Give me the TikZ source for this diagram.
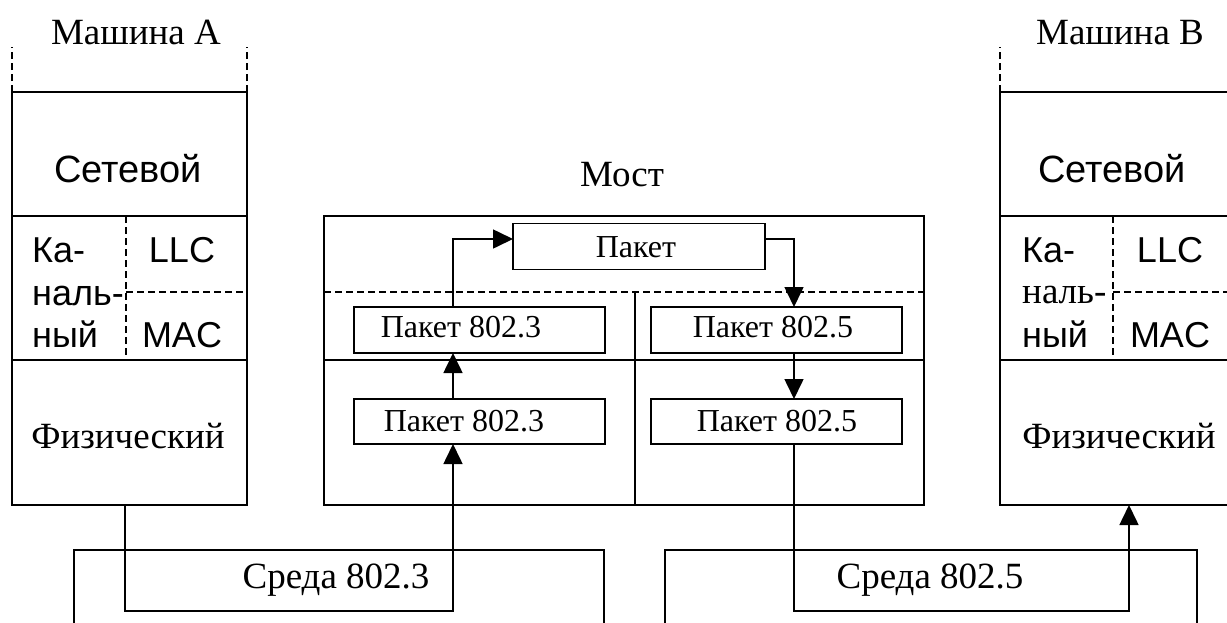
\documentclass[tikz,border=0pt]{standalone}
\usepackage{fontspec}
\setmainfont{Liberation Serif}
\newfontfamily\arialf{Liberation Sans}
\usetikzlibrary{arrows.meta}

\tikzset{
  box/.style={draw, line width=1.9pt, inner sep=0pt, outer sep=0pt},
  dashline/.style={line width=1.6pt, dash pattern=on 7pt off 4pt},
  solidline/.style={line width=1.9pt},
  conn/.style={line width=1.6pt},
  arr/.style={conn, -{Triangle[length=20pt,width=19pt]}},
  serif/.style={inner sep=0pt, font=\fontsize{37}{40}\selectfont},
  sans/.style={inner sep=0pt, font=\arialf\fontsize{36}{40}\selectfont},
  bigsans/.style={inner sep=0pt, font=\arialf\fontsize{38}{40}\selectfont},
  pk/.style={inner sep=0pt, font=\fontsize{32}{34}\selectfont},
}

\begin{document}
\begin{tikzpicture}[x=1pt, y=-1pt]
\useasboundingbox (0,0) rectangle (1227,622);
\clip (0,0) rectangle (1227,622);

% ---------- Machine A ----------
\node[serif, anchor=base] (labA) at (136,44) {Машина А};
\node[box, minimum width=235pt, minimum height=124pt] (netA) at (129.5,154) {};
\node[box, minimum width=235pt, minimum height=144pt] (linkA) at (129.5,288) {};
\node[box, minimum width=235pt, minimum height=145pt] (phyA) at (129.5,432.5) {};
\draw[dashline] (netA.north west) -- ++(0,-45);
\draw[dashline] (netA.north east) -- ++(0,-45);
\draw[dashline] (126,216) -- (126,360);
\draw[dashline] (126,292) -- (247,292);
\node[bigsans, anchor=base] (netAt) at (128,182) {Сетевой};
\node[sans, anchor=base west] (kaA) at (32,262) {Ка-};
\node[sans, anchor=base west] (nalA) at (32,305) {наль-};
\node[sans, anchor=base west] (nyA) at (32,347) {ный};
\node[sans, anchor=base] (llcA) at (182,262) {LLC};
\node[sans, anchor=base] (macA) at (182,347) {MAC};
\node[serif, anchor=base] (phyAt) at (128,448) {Физический};

% ---------- Machine B ----------
\node[serif, anchor=base] (labB) at (1120,44) {Машина В};
\node[box, minimum width=235pt, minimum height=124pt] (netB) at (1117.5,154) {};
\node[box, minimum width=235pt, minimum height=144pt] (linkB) at (1117.5,288) {};
\node[box, minimum width=235pt, minimum height=145pt] (phyB) at (1117.5,432.5) {};
\draw[dashline] (netB.north west) -- ++(0,-45);
\draw[dashline] (1113,216) -- (1113,360);
\draw[dashline] (1113,292) -- (1235,292);
\node[bigsans, anchor=base] (netBt) at (1112,182) {Сетевой};
\node[sans, anchor=base west] (kaB) at (1022,262) {Ка-};
\node[serif, anchor=base west] (nalB) at (1022,303) {наль-};
\node[sans, anchor=base west] (nyB) at (1022,347) {ный};
\node[sans, anchor=base] (llcB) at (1170,262) {LLC};
\node[sans, anchor=base] (macB) at (1170,347) {MAC};
\node[serif, anchor=base] (phyBt) at (1119,448) {Физический};

% ---------- Bridge ----------
\node[serif, anchor=base] (mostt) at (622,186) {Мост};
\node[box, minimum width=600pt, minimum height=289pt] (bridge) at (624,360.5) {};
\draw[dashline] (324,292) -- (924,292);
\draw[solidline] (324,360) -- (924,360);
\draw[solidline] (635,292) -- (635,505);

\node[box, minimum width=252pt, minimum height=46pt] (pak) at (639,246.5) {};
\node[pk, anchor=base] (pakt) at (636,257) {Пакет};
\node[box, minimum width=251pt, minimum height=46pt] (hi3) at (479.5,330) {};
\node[pk, anchor=base] (hi3t) at (461,337) {Пакет 802.3};
\node[box, minimum width=251pt, minimum height=46pt] (hi5) at (776.5,330) {};
\node[pk, anchor=base] (hi5t) at (773,337) {Пакет 802.5};
\node[box, minimum width=251pt, minimum height=45pt] (lo3) at (479.5,421.5) {};
\node[pk, anchor=base] (lo3t) at (464,431) {Пакет 802.3};
\node[box, minimum width=251pt, minimum height=45pt] (lo5) at (776.5,421.5) {};
\node[pk, anchor=base] (lo5t) at (777,431) {Пакет 802.5};

% ---------- Media ----------
\node[box, minimum width=530pt, minimum height=100pt] (med3) at (339,600) {};
\node[serif, anchor=base] (med3t) at (336,588) {Среда 802.3};
\node[box, minimum width=532pt, minimum height=100pt] (med5) at (931,600) {};
\node[serif, anchor=base] (med5t) at (930,588) {Среда 802.5};

% ---------- Frame paths ----------
\coordinate (xA) at (125,0);
\coordinate (xL) at (453,0);
\coordinate (xR) at (794,0);
\coordinate (xB) at (1129,0);
\coordinate (yB) at (0,611);
\coordinate (yP) at (0,239);

\draw[arr] (phyA.south -| xA) |- (yB -| xL) -- (lo3.south -| xL);
\draw[arr] (lo3.north -| xL) -- (hi3.south -| xL);
\draw[arr] (hi3.north -| xL) |- (yP -| pak.west);
\draw[arr] (yP -| pak.east) -| (hi5.north -| xR);
\draw[arr] (hi5.south -| xR) -- (lo5.north -| xR);
\draw[arr] (lo5.south -| xR) |- (yB -| xB) -- (phyB.south -| xB);
\end{tikzpicture}
\end{document}
